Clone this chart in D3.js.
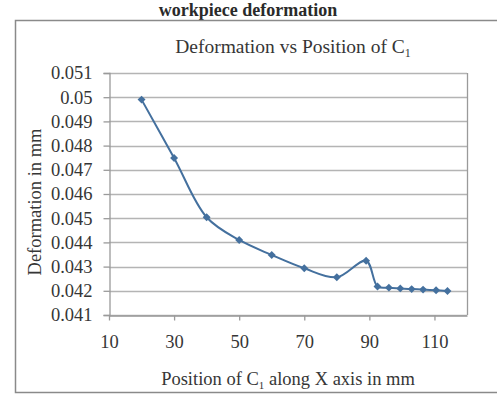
<!DOCTYPE html>
<html>
<head>
<meta charset="utf-8">
<script src="https://cdn.jsdelivr.net/npm/d3@7/dist/d3.min.js"></script>
<style>
  html, body { margin: 0; padding: 0; background: #fff; }
  svg { display: block; }
  text { font-family: "Liberation Serif", "Times New Roman", serif; fill: #363636; }
</style>
</head>
<body>
<svg id="chart" width="497" height="396"></svg>
<script>
// Position of clamp C1 along the X axis (mm) and the resulting workpiece deformation (mm)
const positions = [20, 30, 40, 50, 60, 70, 80, 89, 92.5, 96, 99.5, 103, 106.5, 110.5, 114];
const deformation = [0.0499, 0.04749, 0.04504, 0.04410, 0.04348, 0.04293, 0.04256, 0.04324,
                     0.04218, 0.04213, 0.04210, 0.04207, 0.04205, 0.04202, 0.04199];
const xTicks = [10, 30, 50, 70, 90, 110];
const yTicks = [0.041, 0.042, 0.043, 0.044, 0.045, 0.046, 0.047, 0.048, 0.049, 0.05, 0.051];
const yTickLabels = ["0.041", "0.042", "0.043", "0.044", "0.045", "0.046", "0.047", "0.048", "0.049", "0.05", "0.051"];

const svg = d3.select("#chart");
const plot = { left: 109, right: 467, top: 73, bottom: 315 };

const x = d3.scaleLinear().domain([10, 120]).range([plot.left, plot.right]);
const y = d3.scaleLinear().domain([0.041, 0.051]).range([plot.bottom, plot.top]);

const axisColor = "#9a9a9a";
const gridColor = "#b4b4b4";
const lineColor = "#44709e";
const serif = "'Liberation Serif', 'Times New Roman', serif";

// Caption line above the chart frame
svg.append("text")
  .attr("x", 248).attr("y", 16)
  .attr("text-anchor", "middle")
  .style("font-size", "18px").style("font-weight", "bold")
  .style("fill", "#2a2a2a")
  .text("workpiece deformation");

// Chart frame
svg.append("rect")
  .attr("x", 15.5).attr("y", 20.5).attr("width", 500).attr("height", 372)
  .attr("fill", "none").attr("stroke", "#8a8a8a").attr("stroke-width", 1.5);

// Horizontal gridlines
svg.append("g").selectAll("line").data(yTicks).join("line")
  .attr("x1", plot.left).attr("x2", plot.right)
  .attr("y1", d => Math.round(y(d)) + 0.5).attr("y2", d => Math.round(y(d)) + 0.5)
  .attr("stroke", gridColor).attr("stroke-width", 1.3);

// Right border of the plot area
svg.append("line")
  .attr("x1", plot.right + 0.5).attr("x2", plot.right + 0.5)
  .attr("y1", plot.top).attr("y2", plot.bottom)
  .attr("stroke", axisColor).attr("stroke-width", 1.3);

// Y axis
const yAxis = d3.axisLeft(y).tickValues(yTicks)
  .tickFormat((d, i) => yTickLabels[i]).tickSize(6).tickPadding(6);
const gy = svg.append("g").attr("transform", `translate(${plot.left + 0.5},0)`).call(yAxis);
gy.select(".domain").attr("stroke", axisColor).attr("stroke-width", 1.3);
gy.selectAll(".tick line").attr("stroke", axisColor).attr("stroke-width", 1.3);
gy.selectAll(".tick text")
  .style("font-family", serif)
  .style("font-size", "18.5px").attr("fill", "#363636").attr("dx", "-5");

// X axis
const xAxis = d3.axisBottom(x).tickValues(xTicks).tickSize(5).tickPadding(14).tickSizeOuter(0);
const gx = svg.append("g").attr("transform", `translate(0,${plot.bottom + 0.5})`).call(xAxis);
gx.select(".domain").attr("stroke", axisColor).attr("stroke-width", 1.3);
gx.selectAll(".tick line").attr("stroke", axisColor).attr("stroke-width", 1.3);
gx.selectAll(".tick text")
  .style("font-family", serif)
  .style("font-size", "18.5px").attr("fill", "#363636");

// Smoothed data line
const pts = positions.map((p, i) => [p, deformation[i]]);
const line = d3.line().x(d => x(d[0])).y(d => y(d[1])).curve(d3.curveCatmullRom.alpha(0.5));
svg.append("path").datum(pts)
  .attr("d", line)
  .attr("fill", "none").attr("stroke", lineColor).attr("stroke-width", 2);

// Diamond markers
const diamond = d3.symbol().type(d3.symbolDiamond2).size(40);
svg.append("g").selectAll("path").data(pts).join("path")
  .attr("transform", d => `translate(${x(d[0])},${y(d[1])})`)
  .attr("d", diamond)
  .attr("fill", lineColor);

// Chart title
const title = svg.append("text")
  .attr("x", 293).attr("y", 53)
  .attr("text-anchor", "middle")
  .style("font-size", "19.5px");
title.append("tspan").text("Deformation vs Position of C");
title.append("tspan").attr("dy", 4).style("font-size", "12px").text("1");

// Axis titles
const xt = svg.append("text")
  .attr("x", 288).attr("y", 385)
  .attr("text-anchor", "middle")
  .style("font-size", "18.5px");
xt.append("tspan").text("Position of C");
xt.append("tspan").attr("dy", 4).style("font-size", "11px").text("1");
xt.append("tspan").attr("dy", -4).text(" along X axis in mm");

svg.append("text")
  .attr("transform", "translate(41,202) rotate(-90)")
  .attr("text-anchor", "middle")
  .style("font-size", "18.5px")
  .text("Deformation in mm");
</script>
</body>
</html>
